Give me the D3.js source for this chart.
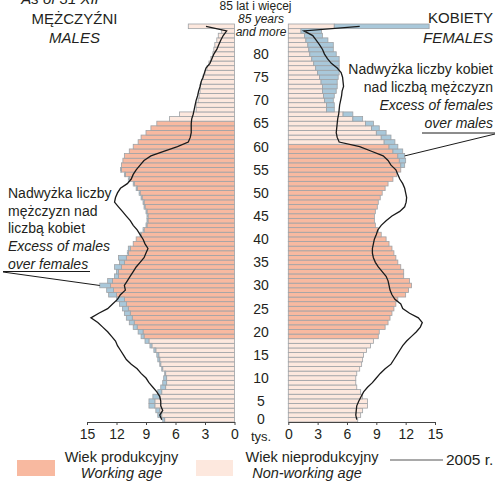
<!DOCTYPE html>
<html><head><meta charset="utf-8">
<script src="https://cdn.jsdelivr.net/npm/d3@7"></script>
<style>
body{margin:0;background:#fff}
svg text{font-family:"Liberation Sans",Arial,Helvetica,sans-serif;fill:#231f20}
</style></head><body>
<svg id="c" width="495" height="485"></svg>
<script>
// ages 0..84 plus "85 and more" (index 85)
const ages = d3.range(0, 86);
const males = [
 7.3,7.8,8.0,8.7,8.7,8.3,7.8,7.5,7.3,7.2,
 7.1,7.4,7.6,7.8,7.9,8.2,8.6,9.1,9.5,9.8,
 10.3,10.7,11.0,11.2,11.4,11.7,12.0,12.8,13.0,13.7,
 12.9,12.2,12.0,12.2,11.7,11.8,10.9,10.8,10.3,10.0,
 9.6,9.3,9.0,8.9,8.9,9.0,9.2,9.3,9.5,9.7,
 10.0,10.3,10.8,11.2,11.6,11.5,11.35,11.2,10.7,10.3,
 9.8,9.5,9.0,8.5,7.9,6.6,5.6,3.9,3.9,3.7,
 3.6,3.5,3.5,3.35,3.2,3.0,2.8,2.6,2.4,2.2,
 2.1,2.0,1.8,1.65,1.3,4.7];
const females = [
 7.1,7.4,7.6,8.1,8.1,7.6,7.4,7.0,6.9,6.9,
 7.0,7.3,7.5,7.6,7.7,8.0,8.4,8.7,9.2,9.3,
 9.9,10.2,10.4,10.6,10.8,11.0,11.2,12.0,12.3,12.6,
 12.4,11.8,11.8,11.5,11.2,11.0,10.8,10.6,10.3,10.0,
 9.5,9.2,8.9,8.8,8.8,8.9,9.1,9.2,9.4,9.6,
 9.9,10.2,10.7,11.1,11.5,11.9,12.0,11.9,11.7,11.2,
 10.9,10.5,10.0,9.3,8.7,7.6,6.6,4.7,4.7,4.6,
 4.7,4.9,5.0,5.0,5.1,5.2,5.2,5.2,5.2,4.9,
 4.6,4.6,4.05,3.5,3.4,14.4];
const males2005 = [
 7.4,7.6,7.3,7.5,7.5,7.6,7.9,8.3,8.7,9.0,
 9.5,9.9,10.5,11.0,11.3,11.6,11.9,12.1,12.5,12.9,
 13.4,13.9,14.6,13.8,12.9,12.4,11.9,11.6,11.1,11.2,
 10.9,10.6,10.3,10.0,9.6,9.2,9.0,8.8,9.1,9.3,
 9.6,9.9,10.3,10.6,11.0,11.4,11.8,12.2,12.1,11.9,
 11.6,10.9,10.5,10.3,10.0,9.6,9.2,8.5,7.2,5.8,
 4.7,4.5,4.4,4.4,4.4,4.35,4.2,4.1,4.0,3.9,
 3.75,3.65,3.5,3.4,3.2,3.05,2.9,2.5,2.3,2.1,
 1.8,1.6,1.4,1.15,0.8,2.9];
const females2005 = [
 7.0,6.9,6.95,7.0,7.2,7.45,7.7,8.1,8.6,9.0,
 9.4,9.9,10.5,10.8,11.1,11.4,11.7,12.1,12.6,13.1,
 13.5,13.7,13.3,12.4,11.7,11.5,10.9,10.6,10.4,10.3,
 10.2,10.0,9.6,9.2,8.9,8.7,8.6,8.6,8.7,8.8,
 9.0,9.15,9.5,10.0,10.6,11.4,11.9,12.05,12.1,12.0,
 11.9,11.7,11.4,11.2,11.0,10.5,10.2,9.7,8.5,7.3,
 5.2,5.0,4.9,4.95,5.0,5.05,5.15,5.2,5.25,5.35,
 5.45,5.5,5.65,5.6,5.55,5.4,5.0,4.4,4.0,3.7,
 3.5,3.2,2.85,2.5,1.6,7.3];
const ageTicks = [0,5,10,15,20,25,30,35,40,45,50,55,60,65,70,75,80];
const xTicks = [0,3,6,9,12,15];
const workMale = [18, 64];
const workFemale = [18, 59];

const C = {work:"#f8b9a0", non:"#fde8de", excess:"#a9c8da", stroke:"#9ea2a6", line:"#1a1a1a", text:"#231f20"};

const svg = d3.select("#c");
const y = d3.scaleBand().domain(ages).range([422, 24]).padding(0);
const bw = y.bandwidth();
const xL = d3.scaleLinear().domain([0, 15]).range([234.5, 87]);
const xR = d3.scaleLinear().domain([0, 15]).range([288.3, 435]);

function drawSide(x, own, other, work, cls) {
  const g = svg.append("g").attr("class", cls);
  const rows = ages.map(a => ({a, v: own[a], o: other[a]}));
  const seg = (x0v, x1v) => {
    const p0 = x(x0v), p1 = x(x1v);
    return {x: Math.min(p0, p1), w: Math.abs(p1 - p0)};
  };
  g.selectAll("rect.base").data(rows).join("rect").attr("class", "base")
    .each(function(d){ const s = seg(0, Math.min(d.v, d.o)); d3.select(this).attr("x", s.x).attr("width", s.w); })
    .attr("y", d => y(d.a)).attr("height", bw)
    .attr("fill", d => (d.a >= work[0] && d.a <= work[1]) ? C.work : C.non)
    .attr("stroke", C.stroke).attr("stroke-width", 0.8);
  g.selectAll("rect.exc").data(rows.filter(d => d.v > d.o)).join("rect").attr("class", "exc")
    .each(function(d){ const s = seg(d.o, d.v); d3.select(this).attr("x", s.x).attr("width", s.w); })
    .attr("y", d => y(d.a)).attr("height", bw)
    .attr("fill", C.excess).attr("stroke", C.stroke).attr("stroke-width", 0.8);
}
drawSide(xL, males, females, workMale, "m");
drawSide(xR, females, males, workFemale, "f");

// 2005 lines
const line = x => d3.line().x(d => x(d.v)).y(d => y(d.a) + bw / 2);
svg.append("path").datum(ages.map(a => ({a, v: males2005[a]})))
  .attr("d", line(xL)).attr("fill", "none").attr("stroke", C.line).attr("stroke-width", 1.3);
svg.append("path").datum(ages.map(a => ({a, v: females2005[a]})))
  .attr("d", line(xR)).attr("fill", "none").attr("stroke", C.line).attr("stroke-width", 1.3);

// axes
function axis(x) {
  const g = svg.append("g").attr("transform", "translate(0,422)")
    .call(d3.axisBottom(x).tickValues(xTicks).tickSize(3).tickSizeOuter(0).tickPadding(4));
  g.select(".domain").attr("stroke", "#444");
  g.selectAll(".tick line").attr("stroke", "#444");
  g.selectAll("text").attr("font-size", 14).attr("font-family", null).attr("fill", C.text);
}
axis(xL); axis(xR);

// age labels
svg.append("g").selectAll("text").data(ageTicks).join("text")
  .attr("x", 261).attr("y", a => y(a) + bw / 2 + (a === 0 ? -0.5 : 4.5))
  .attr("dy", "0.36em").attr("text-anchor", "middle").attr("font-size", 14).text(a => a);

const T = (x, y0, s, opt = {}) => svg.append("text").attr("x", x).attr("y", y0)
  .attr("font-size", opt.size || 15).attr("text-anchor", opt.anchor || "middle")
  .attr("font-style", opt.italic ? "italic" : null).text(s);

T(261, 434 + 7, "tys.", {size: 13});
T(255.5, 10, "85 lat i więcej", {size: 12});
T(261, 23, "85 years", {size: 12, italic: true});
T(261, 36, "and more", {size: 12, italic: true});

T(60, 4, "As of 31 XII", {italic: true});
T(74.5, 24, "MĘŻCZYŹNI");
T(74.5, 43, "MALES", {italic: true});
T(493, 23, "KOBIETY", {anchor: "end"});
T(493, 43, "FEMALES", {anchor: "end", italic: true});

// right annotation
const ra = [["Nadwyżka liczby kobiet", false], ["nad liczbą mężczyzn", false], ["Excess of females", true], ["over males", true]];
ra.forEach((r, i) => T(493, 74 + i * 18, r[0], {anchor: "end", size: 14, italic: r[1]}));
svg.append("line").attr("x1", 422).attr("x2", 495).attr("y1", 133).attr("y2", 133).attr("stroke", C.line).attr("stroke-width", 1);
svg.append("line").attr("x1", 495).attr("y1", 134).attr("x2", xR(females[57])).attr("y2", y(57) + bw / 2).attr("stroke", C.line).attr("stroke-width", 1);

// left annotation
const la = [["Nadwyżka liczby", false], ["mężczyzn nad", false], ["liczbą kobiet", false], ["Excess of males", true], ["over females", true]];
la.forEach((r, i) => T(8, 198 + i * 17.7, r[0], {anchor: "start", size: 14, italic: r[1]}));
svg.append("line").attr("x1", 3).attr("x2", 90).attr("y1", 271.5).attr("y2", 271.5).attr("stroke", C.line).attr("stroke-width", 1);
svg.append("line").attr("x1", 3).attr("y1", 272).attr("x2", xL(males[29])).attr("y2", y(29) + bw / 2).attr("stroke", C.line).attr("stroke-width", 1);

// legend
svg.append("rect").attr("x", 17).attr("y", 460).attr("width", 38).attr("height", 16).attr("fill", C.work);
T(121.5, 462, "Wiek produkcyjny", {size: 14.5});
T(121.5, 478, "Working age", {size: 14.5, italic: true});
svg.append("rect").attr("x", 196).attr("y", 460).attr("width", 37).attr("height", 16).attr("fill", C.non);
T(312, 462, "Wiek nieprodukcyjny", {size: 14.5});
T(307, 478, "Non-working age", {size: 14.5, italic: true});
svg.append("line").attr("x1", 390).attr("x2", 443).attr("y1", 460).attr("y2", 460).attr("stroke", "#555").attr("stroke-width", 1.2);
T(446, 465, "2005 r.", {anchor: "start", size: 15.5});
</script>
</body></html>
